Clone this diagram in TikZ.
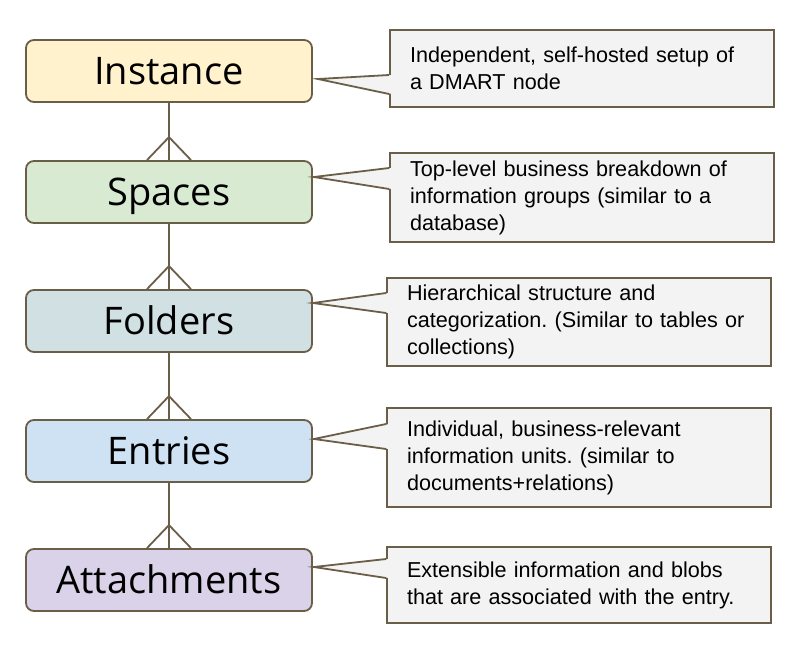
\documentclass[tikz,border=0pt]{standalone}
\usepackage{fontspec}
\setmainfont{Liberation Sans}
\newfontfamily\entityfont{Open Sans}
\usetikzlibrary{calc}
\frenchspacing

\definecolor{edge}{RGB}{107,94,72}
\definecolor{notegray}{HTML}{F3F3F3}
\definecolor{instfill}{HTML}{FFF2CC}
\definecolor{spcfill}{HTML}{D9EAD3}
\definecolor{fldfill}{HTML}{D0E0E3}
\definecolor{entfill}{HTML}{CFE2F3}
\definecolor{attfill}{HTML}{D9D2E9}

\begin{document}
\begin{tikzpicture}[x=1pt, y=-1pt,
    entity/.style = {draw=edge, line width=1.8pt, rounded corners=8pt,
                     minimum width=286pt, minimum height=62pt,
                     text height=27.5pt, text depth=0pt,
                     font=\entityfont\fontsize{38}{44}\selectfont},
    note/.style   = {draw=edge, fill=notegray, line width=1.8pt,
                     text width=344pt, inner xsep=20pt, align=left,
                     font=\fontsize{21.6}{27}\selectfont},
    link/.style   = {draw=edge, line width=1.8pt}]

    \useasboundingbox (0,0) rectangle (804,651);

    % entities
    \node[entity, fill=instfill] (inst) at (169,71)  {Instance};
    \node[entity, fill=spcfill]  (spc)  at (169,192) {Spaces};
    \node[entity, fill=fldfill]  (fld)  at (169,321) {Folders};
    \node[entity, fill=entfill]  (ent)  at (169,451) {Entries};
    \node[entity, fill=attfill]  (att)  at (169,580) {Attachments};

    % one-to-many links
    \draw[link] (inst) -- (spc);
    \draw[link] ([xshift=-22pt]spc.north) -- ([yshift=23pt]spc.north) -- ([xshift=22pt]spc.north);
    \draw[link] (spc) -- (fld);
    \draw[link] ([xshift=-22pt]fld.north) -- ([yshift=23pt]fld.north) -- ([xshift=22pt]fld.north);
    \draw[link] (fld) -- (ent);
    \draw[link] ([xshift=-22pt]ent.north) -- ([yshift=23pt]ent.north) -- ([xshift=22pt]ent.north);
    \draw[link] (ent) -- (att);
    \draw[link] ([xshift=-22pt]att.north) -- ([yshift=23pt]att.north) -- ([xshift=22pt]att.north);

    % notes
    \node[note, minimum height=77pt] (n1) at (582,68.5) {Independent, self-hosted setup of\\a DMART node};
    \node[note, minimum height=89pt] (n2) at (582,197.5) {Top-level business breakdown of\\information groups (similar to a\\database)};
    \node[note, minimum height=88pt] (n3) at (579,322) {Hierarchical structure and\\categorization. (Similar to tables or\\collections)};
    \node[note, minimum height=99pt] (n4) at (579,457.5) {Individual, business-relevant\\information units. (similar to\\documents+relations)};
    \node[note, minimum height=76pt] (n5) at (579,585) {Extensible information and blobs\\that are associated with the entry.};

    % note pointers
    \coordinate (t1) at ([shift={(5,8)}]inst.east);
    \coordinate (t2) at ([shift={(1,-15)}]spc.east);
    \coordinate (t3) at ([shift={(0,-18)}]fld.east);
    \coordinate (t4) at ([shift={(1,-12)}]ent.east);
    \coordinate (t5) at ([shift={(1,-13)}]att.east);

    \fill[notegray] ($(n1.west |- 0,75)+(3,0)$) -- (t1) -- ($(n1.west |- 0,94)+(3,0)$) -- cycle;
    \draw[link] (n1.west |- 0,75) -- (t1) -- (n1.west |- 0,94);
    \fill[notegray] ($(n2.west |- 0,168)+(3,0)$) -- (t2) -- ($(n2.west |- 0,189)+(3,0)$) -- cycle;
    \draw[link] (n2.west |- 0,168) -- (t2) -- (n2.west |- 0,189);
    \fill[notegray] ($(n3.west |- 0,293)+(3,0)$) -- (t3) -- ($(n3.west |- 0,313)+(3,0)$) -- cycle;
    \draw[link] (n3.west |- 0,293) -- (t3) -- (n3.west |- 0,313);
    \fill[notegray] ($(n4.west |- 0,424)+(3,0)$) -- (t4) -- ($(n4.west |- 0,449)+(3,0)$) -- cycle;
    \draw[link] (n4.west |- 0,424) -- (t4) -- (n4.west |- 0,449);
    \fill[notegray] ($(n5.west |- 0,559)+(3,0)$) -- (t5) -- ($(n5.west |- 0,578)+(3,0)$) -- cycle;
    \draw[link] (n5.west |- 0,559) -- (t5) -- (n5.west |- 0,578);

\end{tikzpicture}
\end{document}
